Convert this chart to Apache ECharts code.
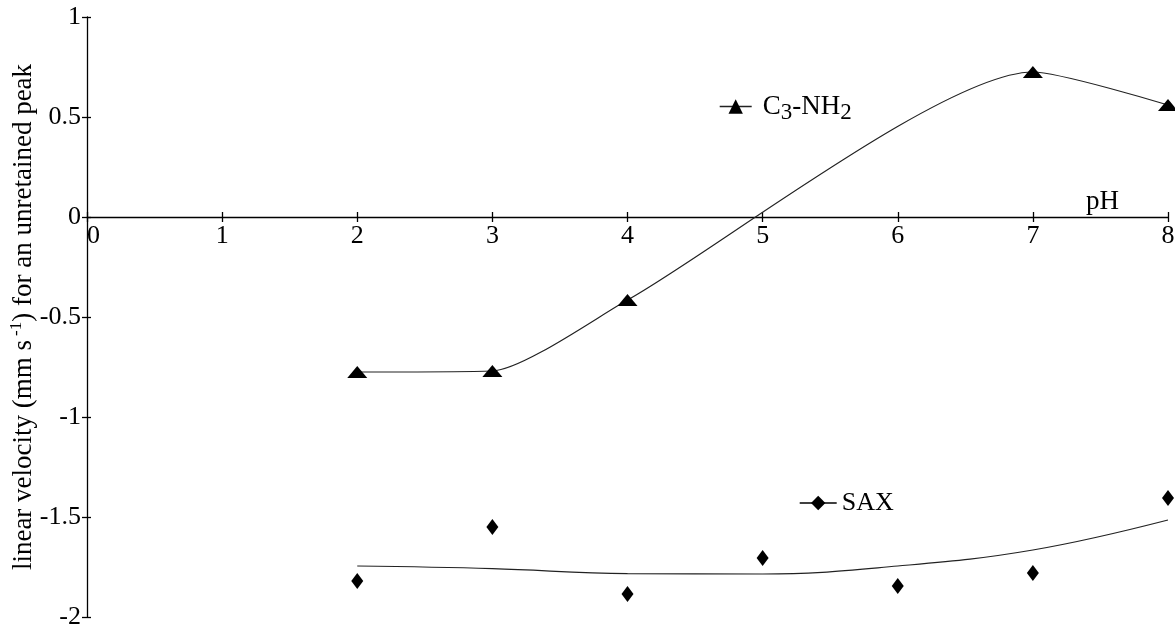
<!DOCTYPE html>
<html>
<head>
<meta charset="utf-8">
<script src="https://cdn.jsdelivr.net/npm/echarts@6/dist/echarts.min.js"></script>
<style>
html,body{margin:0;padding:0;background:#fff;}
#chart{width:1175px;height:632px;}
</style>
</head>
<body>
<div id="chart"></div>
<script>
// ---- data ----
const phNH2 = [2, 3, 4, 7, 8];
const velNH2 = [-0.775, -0.77, -0.415, 0.725, 0.56];
const phSAX = [2, 3, 4, 5, 6, 7, 8];
const velSAX = [-1.82, -1.55, -1.885, -1.705, -1.845, -1.78, -1.405];
const velSAXTrend = [-1.745, -1.758, -1.783, -1.785, -1.745, -1.665, -1.515];
const xTicks = [0, 1, 2, 3, 4, 5, 6, 7, 8];
const yTicks = [-2, -1.5, -1, -0.5, 0, 0.5, 1];
const nameNH2 = 'C3-NH2';
const nameSAX = 'SAX';
const yTitle = 'linear velocity (mm s{sup|-1}) for an unretained peak';
const xTitle = 'pH';

const FONT = "'Liberation Serif', 'Times New Roman', serif";
const zip = (xs, ys) => xs.map((x, i) => [x, ys[i]]);
const yMin = yTicks[0], yMax = yTicks[yTicks.length - 1];
const GRID = { left: 87, right: 7, top: 17, bottom: 15 };
const plotH = 632 - GRID.top - GRID.bottom;
const zeroOffset = -plotH * (0 - yMin) / (yMax - yMin); // x axis drawn at y = 0

const baseX = {
  type: 'value', min: xTicks[0], max: xTicks[xTicks.length - 1], interval: 1,
  position: 'bottom', offset: zeroOffset, splitLine: { show: false }
};
const baseY = {
  type: 'value', min: yMin, max: yMax, interval: 0.5,
  position: 'left', splitLine: { show: false }
};

const chart = echarts.init(document.getElementById('chart'));
chart.setOption({
  animation: false,
  backgroundColor: '#fff',
  grid: Object.assign({ containLabel: false, outerBoundsMode: 'none' }, GRID),
  xAxis: [
    Object.assign({}, baseX, {
      name: xTitle, nameLocation: 'end', nameGap: -82, nameMoveOverlap: false,
      nameTextStyle: { fontFamily: FONT, fontSize: 27, color: '#000', align: 'left', verticalAlign: 'bottom', padding: [0, 0, 2, 0] },
      axisLine: { show: true, onZero: false, lineStyle: { color: '#000', width: 1.3 } },
      axisTick: { show: true, length: 5, lineStyle: { color: '#000', width: 1.3 } },
      axisLabel: { fontFamily: FONT, fontSize: 26, color: '#000', margin: 6, alignMinLabel: 'left' }
    }),
    Object.assign({}, baseX, {
      axisLine: { show: false, onZero: false },
      axisTick: { show: true, inside: true, length: 5, lineStyle: { color: '#000', width: 1.3 } },
      axisLabel: { show: false }
    })
  ],
  yAxis: [
    Object.assign({}, baseY, {
      name: yTitle, nameLocation: 'middle', nameGap: 47, nameRotate: 90, nameMoveOverlap: false,
      nameTextStyle: {
        fontFamily: FONT, fontSize: 27, color: '#000', lineHeight: 32,
        rich: { sup: { fontFamily: FONT, fontSize: 17, color: '#000', verticalAlign: 'top', padding: [0, 0, 0, 4] } }
      },
      axisLine: { show: true, lineStyle: { color: '#000', width: 1.3 } },
      axisTick: { show: true, length: 5, lineStyle: { color: '#000', width: 1.3 } },
      axisLabel: { fontFamily: FONT, fontSize: 26, color: '#000', margin: 6 }
    }),
    Object.assign({}, baseY, {
      axisLine: { show: false },
      axisTick: { show: true, inside: true, length: 4, lineStyle: { color: '#000', width: 1.3 } },
      axisLabel: { show: false }
    })
  ],
  legend: [
    {
      data: [nameNH2], left: 719, top: 89, padding: 0, itemWidth: 32, itemHeight: 18,
      formatter: 'C{sub|3}-NH{sub|2}',
      lineStyle: { width: 1.4 },
      textStyle: {
        fontFamily: FONT, fontSize: 27, color: '#000', lineHeight: 35, padding: [0, 0, 0, 6],
        rich: { sub: { fontFamily: FONT, fontSize: 23, color: '#000', verticalAlign: 'bottom' } }
      }
    },
    {
      data: [nameSAX], left: 799, top: 488, padding: 0, itemWidth: 37, itemHeight: 18,
      lineStyle: { width: 1.4, color: '#000', opacity: 1 },
      textStyle: { fontFamily: FONT, fontSize: 26, color: '#000', lineHeight: 30 }
    }
  ],
  series: [
    {
      name: nameNH2, type: 'line', smooth: 0.21,
      data: zip(phNH2, velNH2),
      symbol: 'triangle', symbolSize: [20, 12],
      itemStyle: { color: '#000' },
      lineStyle: { color: '#222', width: 1.2 }
    },
    {
      name: nameSAX, type: 'line',
      data: zip(phSAX, velSAX),
      symbol: 'diamond', symbolSize: [12, 16],
      itemStyle: { color: '#000' },
      lineStyle: { width: 0, opacity: 0, color: '#000' }
    },
    {
      name: 'SAX trend', type: 'line', smooth: 0.4,
      data: zip(phSAX, velSAXTrend),
      symbol: 'none', silent: true,
      lineStyle: { color: '#222', width: 1.2 }
    }
  ]
});
</script>
</body>
</html>
